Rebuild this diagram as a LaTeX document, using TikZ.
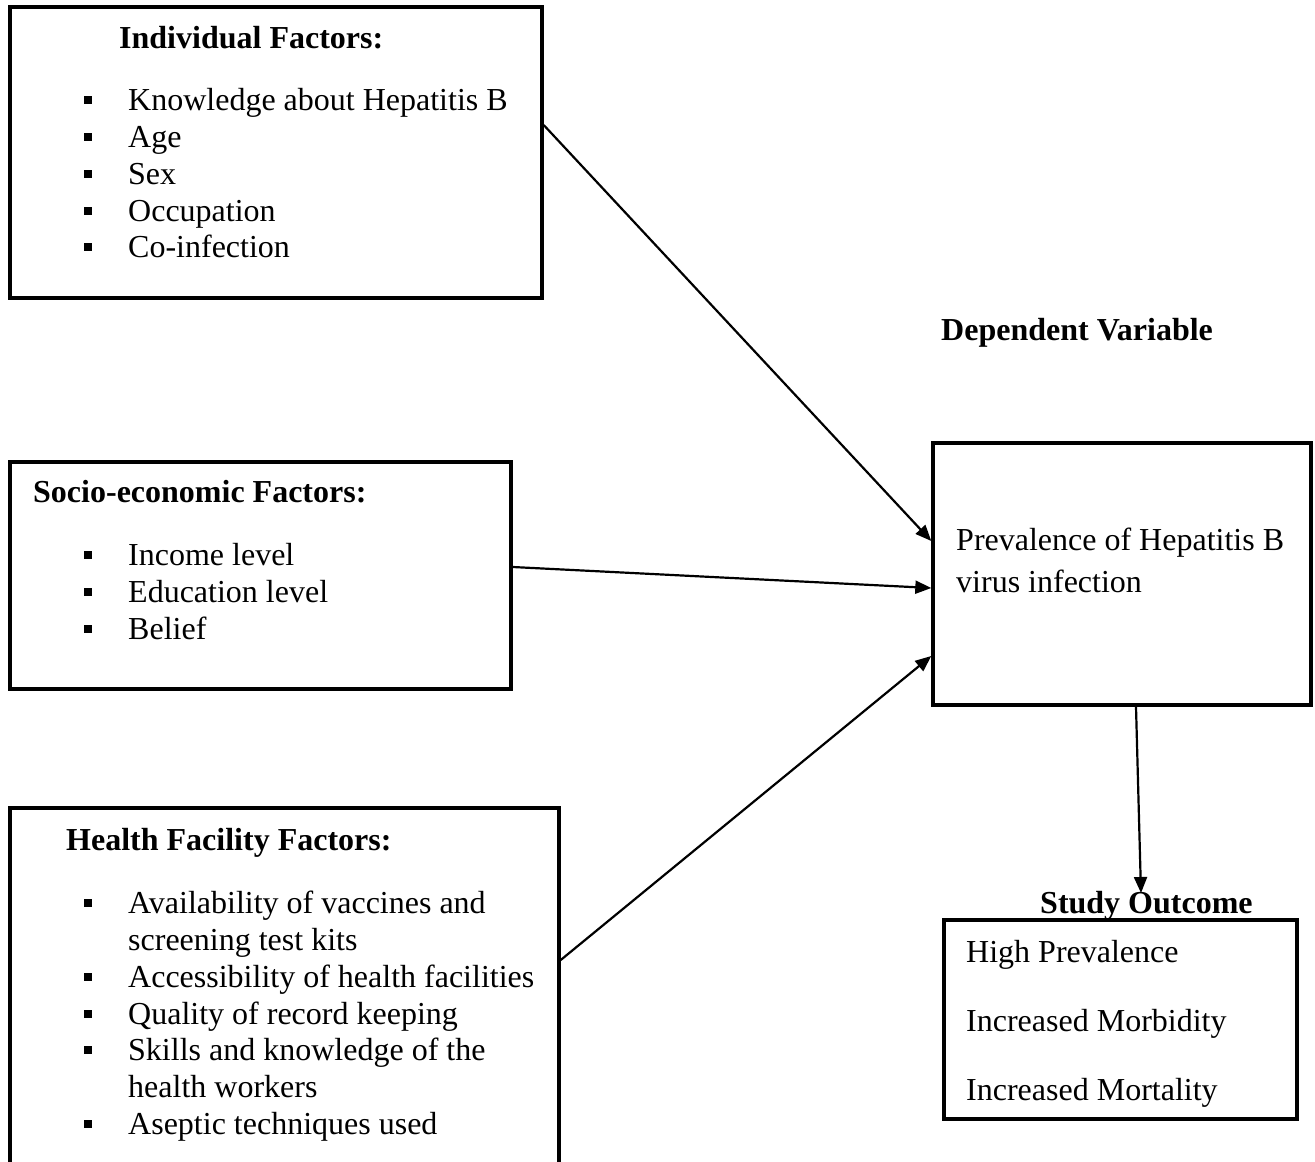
\documentclass[tikz,border=0pt]{standalone}
\usepackage{fontspec}
\setmainfont{Liberation Serif}
\usetikzlibrary{arrows.meta,calc}
\begin{document}
\begin{tikzpicture}[x=1pt,y=-1pt,
  box/.style={draw,line width=3.4pt,rectangle,inner sep=0pt},
  txt/.style={anchor=base west,inner sep=0pt,font=\fontsize{32}{37}\selectfont},
  ttl/.style={anchor=base west,inner sep=0pt,font=\fontsize{32}{37}\selectfont\bfseries},
  bul/.style={fill=black,inner sep=0pt,minimum size=8.5pt},
  arr/.style={line width=2.2pt,-{Triangle[length=16pt,width=13pt]}}]
\clip (0,0) rectangle (1315,1162);
\fill[white] (0,0) rectangle (1315,1162);
% boxes
\node[box,minimum width=532pt,minimum height=291pt] (ind) at (276,152.5) {};
\node[box,minimum width=501pt,minimum height=227pt] (soc) at (260.5,575.5) {};
\node[box,minimum width=549pt,minimum height=392pt] (hea) at (284.5,1004) {};
\node[box,minimum width=378pt,minimum height=262pt] (prev) at (1122,574) {};
\node[box,minimum width=353pt,minimum height=199pt] (out) at (1120.5,1019.5) {};
% titles
\node[ttl] (indT) at (119,48) {Individual Factors:};
\node[ttl] (socT) at (33,502) {Socio-economic Factors:};
\node[ttl] (heaT) at (66,850) {Health Facility Factors:};
\node[ttl] (dep) at (941,340) {Dependent Variable};
\node[ttl] (outT) at (1040,913) {Study Outcome};
% individual items
\foreach \yy/\tt [count=\i] in {110/Knowledge about Hepatitis B,147/Age,184/Sex,221/Occupation,257/Co-infection}{
  \node[bul] (indb\i) at (88,\yy-10) {};
  \node[txt] (indt\i) at (128,\yy) {\tt};
}
% socio items
\foreach \yy/\tt [count=\i] in {565/Income level,602/Education level,639/Belief}{
  \node[bul] (socb\i) at (88,\yy-10) {};
  \node[txt] (soct\i) at (128,\yy) {\tt};
}
% health items
\foreach \yy/\tt [count=\i] in {913/Availability of vaccines and,987/Accessibility of health facilities,1024/Quality of record keeping,1060/Skills and knowledge of the,1134/Aseptic techniques used}{
  \node[bul] (heab\i) at (88,\yy-10) {};
  \node[txt] (heat\i) at (128,\yy) {\tt};
}
\node[txt] (heac1) at (128,950) {screening test kits};
\node[txt] (heac2) at (128,1097) {health workers};
% prevalence
\node[txt] (prev1) at (956,550) {Prevalence of Hepatitis B};
\node[txt] (prev2) at (956,592) {virus infection};
% outcomes
\node[txt] (o1) at (966,962) {High Prevalence};
\node[txt] (o2) at (966,1031) {Increased Morbidity};
\node[txt] (o3) at (966,1100) {Increased Mortality};
% arrows
\draw[arr] ([yshift=27.5pt]ind.east) -- ([yshift=33pt]prev.west);
\draw[arr] ([yshift=8.5pt]soc.east) -- ([yshift=-14pt]prev.west);
\draw[arr] ([yshift=44pt]hea.east) -- ([yshift=-82pt]prev.west);
\coordinate (tip) at (1141,893);
\draw[arr] ([xshift=14pt]prev.south) -- (tip);
\end{tikzpicture}
\end{document}
